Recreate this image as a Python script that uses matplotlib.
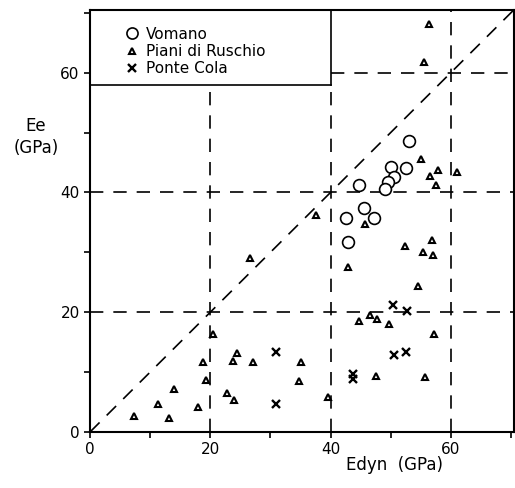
import matplotlib
matplotlib.use("Agg")
import matplotlib.pyplot as plt
from matplotlib.lines import Line2D
from matplotlib.ticker import MultipleLocator

# Edyn / Ee pairs (GPa) for each site
vomano_edyn = [53.0, 50.0, 52.6, 50.5, 49.5, 49.1, 44.8, 45.6, 42.6, 47.3, 42.9]
vomano_ee = [48.5, 44.2, 44.1, 42.6, 41.7, 40.6, 41.2, 37.4, 35.7, 35.7, 31.7]

piani_edyn = [7.3, 13.1, 11.3, 13.9, 17.9, 18.8, 19.2, 20.5, 24.5, 23.7,
              27.1, 35.1, 34.8, 22.7, 24.0, 39.6, 26.6, 37.6, 54.5, 44.7,
              46.5, 47.8, 49.7, 57.2, 47.6, 55.7, 55.1, 57.9, 56.6, 57.5,
              61.1, 45.8, 52.4, 56.9, 55.3, 57.0, 42.9, 56.3, 55.5]
piani_ee = [2.6, 2.3, 4.7, 7.2, 4.1, 11.6, 8.7, 16.3, 13.2, 11.8,
            11.7, 11.7, 8.5, 6.5, 5.4, 5.9, 29.0, 36.3, 24.3, 18.5,
            19.6, 18.8, 18.1, 16.3, 9.4, 9.1, 45.6, 43.7, 42.7, 41.3,
            43.4, 34.8, 31.0, 32.1, 30.1, 29.6, 27.6, 68.2, 61.7]

cola_edyn = [31.0, 31.0, 50.3, 52.7, 50.5, 52.6, 43.7, 43.7]
cola_ee = [13.4, 4.6, 21.2, 20.2, 12.9, 13.4, 9.7, 8.8]

ticks = [0, 20, 40, 60]
lim = 70.5
box_x, box_y = 40, 58  # corner of the key box

fig = plt.figure(figsize=(5.15, 4.88), dpi=100)
ax = fig.add_axes([0.175, 0.115, 0.823, 0.865])

dash = dict(color="black", lw=1.2, ls=(0, (8, 6)), zorder=1)
ax.plot([0, lim], [0, lim], **dash)
ax.plot([0, lim], [20, 20], **dash)
ax.plot([0, lim], [40, 40], **dash)
ax.plot([box_x, lim], [60, 60], **dash)
ax.plot([20, 20], [0, box_y], **dash)
ax.plot([40, 40], [0, box_y], **dash)
ax.plot([60, 60], [0, lim], **dash)

# key box
ax.plot([0, box_x], [box_y, box_y], color="black", lw=1.2, zorder=2)
ax.plot([box_x, box_x], [box_y, lim], color="black", lw=1.2, zorder=2)

ax.plot(vomano_edyn, vomano_ee, ls="none", marker="o", ms=8.5,
        mfc="white", mec="black", mew=1.2, zorder=3)
ax.plot(piani_edyn, piani_ee, ls="none", marker="^", ms=5,
        mfc="white", mec="black", mew=1.5, zorder=3)
ax.plot(cola_edyn, cola_ee, ls="none", marker="x", ms=5.5,
        color="black", mew=1.7, zorder=3)

handles = [
    Line2D([], [], ls="none", marker="o", ms=8, mfc="white", mec="black", mew=1.2),
    Line2D([], [], ls="none", marker="^", ms=5, mfc="white", mec="black", mew=1.5),
    Line2D([], [], ls="none", marker="x", ms=5.5, color="black", mew=1.7),
]
ax.legend(handles, ["Vomano", "Piani di Ruschio", "Ponte Cola"],
          loc="upper left", bbox_to_anchor=(0.06, 0.985), frameon=False,
          fontsize=11, handlelength=0.8, handletextpad=0.5,
          labelspacing=0.15, borderpad=0.2)

ax.set_xlim(0, lim)
ax.set_ylim(0, lim)
ax.set_xticks(ticks)
ax.set_yticks(ticks)
ax.xaxis.set_minor_locator(MultipleLocator(10))
ax.yaxis.set_minor_locator(MultipleLocator(10))
ax.tick_params(which="both", direction="out", length=4, width=1.2,
               labelsize=11, top=False, right=False)
for s in ax.spines.values():
    s.set_linewidth(1.5)

fig.text(394 / 515, 1 - 465 / 488, "Edyn  (GPa)", fontsize=12,
         ha="center", va="center")
fig.text(0.07, 0.72, "Ee\n(GPa)", fontsize=12, ha="center", va="center",
         linespacing=1.3)

fig.savefig("out.png", dpi=100)
